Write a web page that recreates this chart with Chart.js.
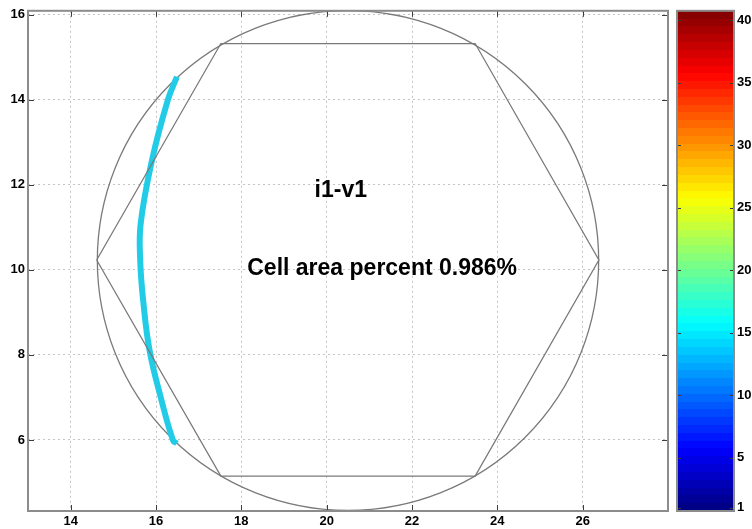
<!DOCTYPE html>
<html>
<head>
<meta charset="utf-8">
<script src="https://cdn.jsdelivr.net/npm/chart.js@4.4.1/dist/chart.umd.min.js"></script>
<style>
html, body { margin: 0; padding: 0; background: #fff; }
#wrap { position: relative; width: 752px; height: 529px; overflow: hidden; }
#main { position: absolute; left: 0; top: 0; }
#bar { position: absolute; left: 672px; top: 0; }
</style>
</head>
<body>
<div id="wrap">
<canvas id="main" width="672" height="529"></canvas>
<canvas id="bar" width="80" height="529"></canvas>
</div>
<script>
// Ejes principales
const xTicks = [14, 16, 18, 20, 22, 24, 26];
const yTicks = [6, 8, 10, 12, 14, 16];
const xRange = [13, 28];
const yRange = [4.33, 16.09];

// Hexagono y circulo de la celda
const hexX = [14.61, 17.52, 23.48, 26.38, 23.48, 17.52, 14.61];
const hexY = [10.23, 15.32, 15.32, 10.23, 5.15, 5.15, 10.23];
const circleCenter = [20.50, 10.22];
const circleRadius = 5.875;

// Banda cian (celula)
const cellX = [16.49, 16.28, 15.90, 15.64, 15.63, 15.70, 15.85, 16.13, 16.40, 16.49];
const cellY = [14.54, 14.00, 12.55, 11.08, 10.21, 9.27, 8.10, 6.93, 5.99, 5.92];

// Textos
const noteText = ['i1-v1', 'Cell area percent 0.986%'];
const noteX = [20.33, 21.30];
const noteY = [11.85, 10.02];

// Barra de color
const cbTicks = [1, 5, 10, 15, 20, 25, 30, 35, 40];
const cbRange = [0.75, 40.75];
const cbLevels = 64;

const tickFont = { family: '"Liberation Sans", Arial, sans-serif', size: 13, weight: 'bold' };

function jet(t) {
    const c = v => Math.round(255 * Math.min(1, Math.max(0, v)));
    return `rgb(${c(1.5 - Math.abs(4 * t - 3))},${c(1.5 - Math.abs(4 * t - 2))},${c(1.5 - Math.abs(4 * t - 1))})`;
}

const shapesPlugin = {
    id: 'shapes',
    beforeDatasetsDraw(chart) {
        const { ctx, chartArea: a } = chart;
        const xs = chart.scales.x, ys = chart.scales.y;
        const cx = xs.getPixelForValue(circleCenter[0]);
        const cy = ys.getPixelForValue(circleCenter[1]);
        const rx = xs.getPixelForValue(circleCenter[0] + circleRadius) - cx;
        const ry = cy - ys.getPixelForValue(circleCenter[1] + circleRadius);
        ctx.save();
        ctx.beginPath();
        ctx.rect(a.left, a.top, a.right - a.left, a.bottom - a.top);
        ctx.clip();
        ctx.beginPath();
        ctx.ellipse(cx, cy, rx, ry, 0, 0, 2 * Math.PI);
        ctx.strokeStyle = '#7a7a7a';
        ctx.lineWidth = 1.3;
        ctx.stroke();
        ctx.restore();
    },
    afterDatasetsDraw(chart) {
        const { ctx } = chart;
        const xs = chart.scales.x, ys = chart.scales.y;
        ctx.save();
        ctx.fillStyle = '#000';
        ctx.font = 'bold 23px "Liberation Sans", Arial, sans-serif';
        ctx.textAlign = 'center';
        ctx.textBaseline = 'middle';
        noteText.forEach((t, i) => {
            ctx.fillText(t, xs.getPixelForValue(noteX[i]), ys.getPixelForValue(noteY[i]));
        });
        ctx.restore();
    }
};

// Marco y marcas interiores (estilo MATLAB)
function framePlugin(xKey, yKey, tickLen, both) {
    return {
        id: 'frame',
        afterDraw(chart) {
            const { ctx, chartArea: a } = chart;
            ctx.save();
            ctx.strokeStyle = '#3c3c3c';
            ctx.lineWidth = 1;
            ctx.beginPath();
            if (xKey) {
                chart.scales[xKey].ticks.forEach(t => {
                    const px = Math.round(chart.scales[xKey].getPixelForValue(t.value)) + 0.5;
                    ctx.moveTo(px, a.bottom); ctx.lineTo(px, a.bottom - tickLen);
                    ctx.moveTo(px, a.top); ctx.lineTo(px, a.top + tickLen);
                });
            }
            chart.scales[yKey].ticks.forEach(t => {
                const py = Math.round(chart.scales[yKey].getPixelForValue(t.value)) + 0.5;
                ctx.moveTo(a.left, py); ctx.lineTo(a.left + tickLen, py);
                if (both) { ctx.moveTo(a.right, py); ctx.lineTo(a.right - tickLen, py); }
            });
            ctx.stroke();
            ctx.strokeStyle = '#8c8c8c';
            ctx.lineWidth = 2;
            ctx.strokeRect(a.left, a.top, a.right - a.left, a.bottom - a.top);
            ctx.restore();
        }
    };
}

new Chart(document.getElementById('main'), {
    type: 'scatter',
    data: {
        datasets: [{
            data: hexX.map((x, i) => ({ x, y: hexY[i] })),
            showLine: true,
            borderColor: '#7a7a7a',
            borderWidth: 1.3,
            pointRadius: 0,
            tension: 0
        }, {
            data: cellX.map((x, i) => ({ x, y: cellY[i] })),
            showLine: true,
            borderColor: '#22cce6',
            borderWidth: 6,
            pointRadius: 0,
            tension: 0.4
        }]
    },
    options: {
        responsive: false,
        animation: false,
        events: [],
        layout: { padding: { top: 9, right: 4, left: 0, bottom: 0 } },
        plugins: { legend: { display: false }, tooltip: { enabled: false } },
        scales: {
            x: {
                type: 'linear',
                min: xRange[0],
                max: xRange[1],
                afterBuildTicks: s => { s.ticks = xTicks.map(v => ({ value: v })); },
                afterFit: s => { s.height = 18; },
                ticks: { font: tickFont, color: '#000', padding: 3, maxRotation: 0 },
                grid: { color: '#c4c4c4', drawTicks: false },
                border: { display: false, dash: [2, 3] }
            },
            y: {
                type: 'linear',
                min: yRange[0],
                max: yRange[1],
                afterBuildTicks: s => { s.ticks = yTicks.map(v => ({ value: v })); },
                afterFit: s => { s.width = 28; },
                ticks: { font: tickFont, color: '#000', padding: 3 },
                grid: { color: '#c4c4c4', drawTicks: false },
                border: { display: false, dash: [2, 3] }
            }
        }
    },
    plugins: [shapesPlugin, framePlugin('x', 'y', 6, true)]
});

new Chart(document.getElementById('bar'), {
    type: 'bar',
    data: {
        labels: [''],
        datasets: [{
            data: [cbRange],
            borderWidth: 0,
            barPercentage: 1,
            categoryPercentage: 1,
            backgroundColor: c => {
                const a = c.chart.chartArea;
                if (!a) return '#00f';
                const g = c.chart.ctx.createLinearGradient(0, a.bottom, 0, a.top);
                for (let i = 0; i < cbLevels; i++) {
                    const col = jet((i + 0.5) / cbLevels);
                    g.addColorStop(i / cbLevels, col);
                    g.addColorStop((i + 1) / cbLevels, col);
                }
                return g;
            }
        }]
    },
    options: {
        responsive: false,
        animation: false,
        events: [],
        layout: { padding: { top: 9, bottom: 18, left: 5, right: 0 } },
        plugins: { legend: { display: false }, tooltip: { enabled: false } },
        scales: {
            x: { display: false },
            y: {
                position: 'right',
                min: cbRange[0],
                max: cbRange[1],
                afterBuildTicks: s => { s.ticks = cbTicks.map(v => ({ value: v })); },
                afterFit: s => { s.width = 18; },
                ticks: { font: tickFont, color: '#000', padding: 3 },
                grid: { display: false, drawTicks: false },
                border: { display: false }
            }
        }
    },
    plugins: [framePlugin(null, 'y', 4, true)]
});
</script>
</body>
</html>
